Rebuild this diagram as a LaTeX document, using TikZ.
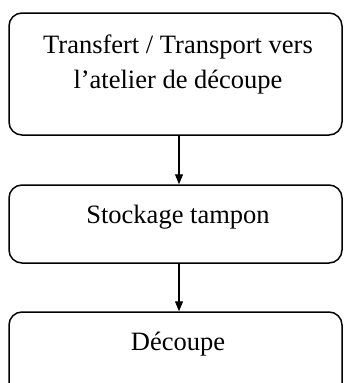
\documentclass[tikz,border=0pt]{standalone}
\usepackage{fontspec}
\setmainfont{Liberation Serif}
\usetikzlibrary{arrows.meta}
\begin{document}
\begin{tikzpicture}[x=1pt,y=-1pt,
  box/.style={draw, line width=1.5pt, rounded corners=13pt, inner sep=0pt},
  lbl/.style={font=\fontsize{26.5}{35}\selectfont, align=center, inner sep=0pt, anchor=base},
  arr/.style={line width=1.2pt, -{Triangle[length=10pt,width=8pt]}}]
\clip (0,0) rectangle (343,383);
\path[fill=white] (0,0) rectangle (343,383);
\node[box, minimum width=333pt, minimum height=122pt] (b1) at (175.5,74) {};
\node[box, minimum width=333pt, minimum height=78pt] (b2) at (175.5,224) {};
\node[box, minimum width=333pt, minimum height=100pt] (b3) at (175.5,362) {};
\node[lbl] (t1) at (178,88) {Transfert / Transport vers\\l’atelier de découpe};
\node[lbl] (t2) at (178,223) {Stockage tampon};
\node[lbl] (t3) at (178,350) {Découpe};
\coordinate (ax) at (179,0);
\draw[arr] (b1.south -| ax) -- (b2.north -| ax);
\draw[arr] (b2.south -| ax) -- (b3.north -| ax);
\end{tikzpicture}
\end{document}
